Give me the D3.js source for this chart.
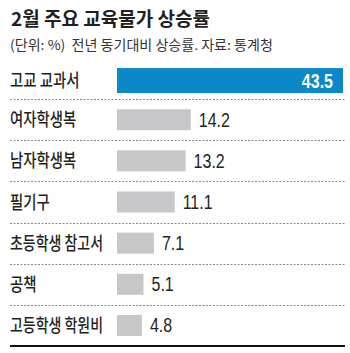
<!DOCTYPE html>
<html>
<head>
<meta charset="utf-8">
<script src="https://cdn.jsdelivr.net/npm/d3@7"></script>
<style>
  html, body { margin: 0; padding: 0; background: #fff; }
  svg { display: block; }
  .kr { font-family: "Noto Sans CJK KR", "Noto Sans", sans-serif; }
  .num { font-family: "Liberation Sans Narrow", "Liberation Sans", "DejaVu Sans Condensed", sans-serif; }
</style>
</head>
<body>
<svg id="chart" width="350" height="353"></svg>
<script>
// 2월 주요 교육물가 상승률 (전년 동기대비, %)
const categories = ["고교 교과서", "여자학생복", "남자학생복", "필기구", "초등학생 참고서", "공책", "고등학생 학원비"];
const values = [43.5, 14.2, 13.2, 11.1, 7.1, 5.1, 4.8];
const highlight = ["고교 교과서"];
const title = "2월 주요 교육물가 상승률";
const subtitle = "(단위: %)  전년 동기대비 상승률. 자료: 통계청";

const W = 350, H = 353;
const leftX = 10, rightX = 345;
const barX0 = 117, barX1 = 343;
const plotTop = 58, plotBottom = 346;

const svg = d3.select("#chart");
const rows = categories.map((c, i) => ({ cat: c, val: values[i], hi: highlight.includes(c) }));

const x = d3.scaleLinear().domain([0, d3.max(values)]).range([barX0, barX1]);
const y = d3.scaleBand().domain(categories).range([plotTop, plotBottom]).padding(0);

// squeeze text horizontally to a target width
function squeeze(sel, factor, maxW) {
  sel.each(function () {
    const w = this.getComputedTextLength();
    let t = w * factor;
    if (maxW && t > maxW) t = maxW;
    d3.select(this).attr("textLength", t).attr("lengthAdjust", "spacingAndGlyphs");
  });
}

// heading
svg.append("text").attr("class", "kr")
  .attr("x", 11).attr("y", 26)
  .attr("font-size", 19).attr("font-weight", 700).attr("fill", "#231f20")
  .text(title)
  .call(squeeze, 1, 206);

svg.append("text").attr("class", "kr")
  .attr("x", 10).attr("y", 50)
  .attr("font-size", 13.5).attr("fill", "#333")
  .attr("xml:space", "preserve").style("white-space", "pre")
  .text(subtitle)
  .call(squeeze, 1.04, 272);

// row separators (dotted)
svg.append("g").selectAll("line")
  .data(categories.slice(0, -1))
  .join("line")
  .attr("x1", leftX).attr("x2", rightX)
  .attr("y1", d => Math.round(y(d) + y.bandwidth()) + 0.5)
  .attr("y2", d => Math.round(y(d) + y.bandwidth()) + 0.5)
  .attr("stroke", "#8a8a8a").attr("stroke-width", 1)
  .attr("stroke-dasharray", "2,1.5");

// bottom rule
svg.append("line")
  .attr("x1", leftX).attr("x2", rightX)
  .attr("y1", plotBottom).attr("y2", plotBottom)
  .attr("stroke", "#111").attr("stroke-width", 2);

const centre = d => y(d.cat) + y.bandwidth() / 2 + (d.hi ? 2 : 0);
const barH = d => d.hi ? 25 : 21;

// bars
svg.append("g").selectAll("rect")
  .data(rows)
  .join("rect")
  .attr("x", x(0))
  .attr("y", d => centre(d) - barH(d) / 2)
  .attr("width", d => x(d.val) - x(0))
  .attr("height", barH)
  .attr("fill", d => d.hi ? "#0a88c8" : "#c7c7c9");

// category labels
svg.append("g").selectAll("text")
  .data(rows)
  .join("text").attr("class", "kr")
  .attr("x", leftX)
  .attr("y", d => centre(d) + 6.5)
  .attr("font-size", 18).attr("font-weight", 500).attr("fill", "#231f20")
  .text(d => d.cat)
  .call(squeeze, 0.8, 93);

// value labels
svg.append("g").selectAll("text")
  .data(rows)
  .join("text").attr("class", "num")
  .attr("x", d => d.hi ? x(d.val) - 10 : x(d.val) + 8)
  .attr("y", d => centre(d) + 7)
  .attr("text-anchor", d => d.hi ? "end" : "start")
  .attr("font-size", 20)
  .attr("font-weight", d => d.hi ? 700 : 400)
  .attr("fill", d => d.hi ? "#fff" : "#231f20")
  .text(d => d.val.toFixed(1))
  .call(squeeze, 0.8);
</script>
</body>
</html>
